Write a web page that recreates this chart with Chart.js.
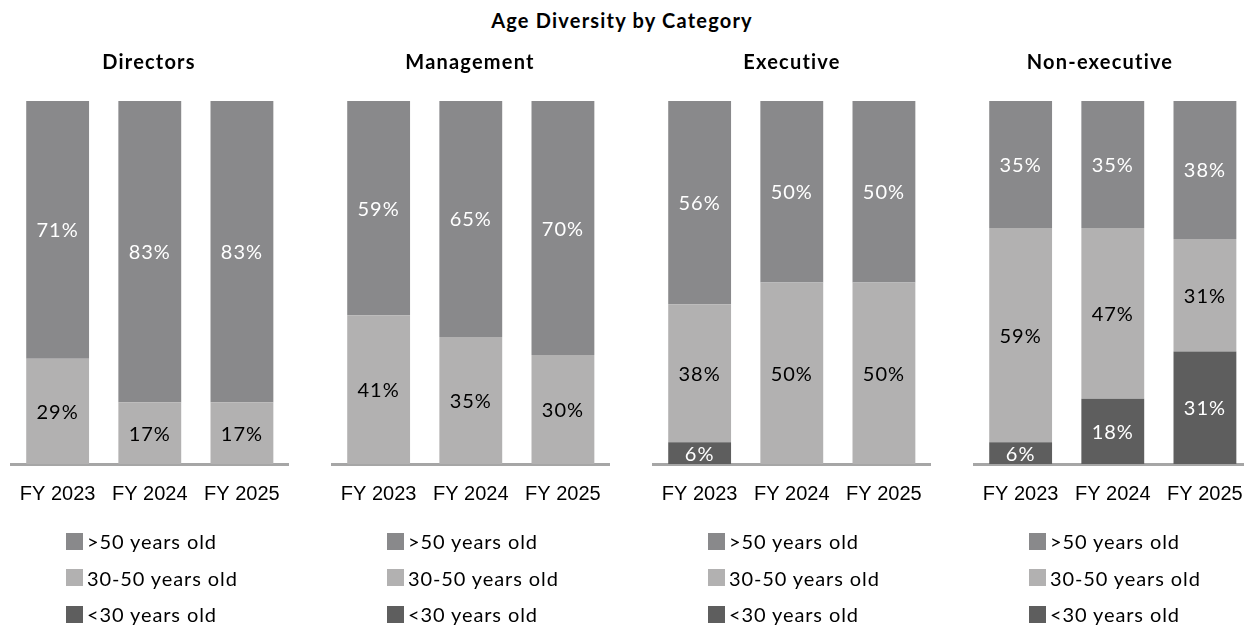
<!DOCTYPE html>
<html>
<head>
<meta charset="utf-8">
<script src="https://cdn.jsdelivr.net/npm/chart.js@4.4.1/dist/chart.umd.min.js"></script>
<style>
  html, body { margin: 0; padding: 0; background: #fff; }
  body { width: 1244px; height: 625px; overflow: hidden; position: relative; font-family: Lato, sans-serif; }
  .panel { position: absolute; top: 0; width: 321px; height: 625px; }
  .title { position: absolute; transform: translate(-50%, -50%); white-space: nowrap; font-weight: 700; font-size: 20px; letter-spacing: 1.2px; color: #000; }
  .legend { position: absolute; top: 523px; }
  .legend-item { display: flex; align-items: center; height: 36.5px; font-size: 20px; letter-spacing: 0.9px; color: #000; white-space: nowrap; }
  .legend-item span.box { width: 17px; height: 17px; margin-right: 4px; display: inline-block; }
</style>
</head>
<body>
<div class="title" id="main-title" style="left:622px; top:20px;">Age Diversity by Category</div>
<div id="panels"></div>
<script>
const categories = ["FY 2023", "FY 2024", "FY 2025"];
const panelTitles = ["Directors", "Management", "Executive", "Non-executive"];
const seriesLabels = [">50 years old", "30-50 years old", "<30 years old"];

// per panel, values in %, order FY 2023 / FY 2024 / FY 2025
const over50 = [[71, 83, 83], [59, 65, 70], [56, 50, 50], [35, 35, 38]];
const from30to50 = [[29, 17, 17], [41, 35, 30], [38, 50, 50], [59, 47, 31]];
const under30 = [[0, 0, 0], [0, 0, 0], [6, 0, 0], [6, 18, 31]];

const seriesColors = ["#89898b", "#b2b1b1", "#5e5e5e"];
const labelColors = ["#ffffff", "#000000", "#ffffff"];
const PANEL_W = 321;
const titleCenters = [149, 470, 792, 1100];

const segmentLabels = {
    id: "segmentLabels",
    afterDatasetsDraw(chart) {
        const ctx = chart.ctx;
        ctx.save();
        ctx.font = "20px Lato";
        ctx.letterSpacing = "1px";
        ctx.textAlign = "center";
        ctx.textBaseline = "middle";
        chart.data.datasets.forEach((ds, di) => {
            const meta = chart.getDatasetMeta(di);
            meta.data.forEach((el, i) => {
                const v = ds.data[i];
                if (!v) return;
                const p = el.getProps(["x", "y", "base"], true);
                ctx.fillStyle = ds.labelColor;
                ctx.fillText(v + "%", p.x, (p.y + p.base) / 2 + 1);
            });
        });
        ctx.restore();
    },
};

const panelsEl = document.getElementById("panels");

panelTitles.forEach((name, pi) => {
    const panel = document.createElement("div");
    panel.className = "panel";
    panel.style.left = (pi * PANEL_W) + "px";
    const canvas = document.createElement("canvas");
    canvas.width = PANEL_W;
    canvas.height = 625;
    canvas.style.width = PANEL_W + "px";
    canvas.style.height = "625px";
    panel.appendChild(canvas);
    panelsEl.appendChild(panel);

    const t = document.createElement("div");
    t.className = "title";
    t.style.left = titleCenters[pi] + "px";
    t.style.top = "61px";
    t.textContent = name;
    document.body.appendChild(t);

    // bottom-up stacking: <30, 30-50, >50
    const seriesData = [under30[pi], from30to50[pi], over50[pi]];
    const order = [2, 1, 0];
    const datasets = order.map((si, k) => ({
        label: seriesLabels[si],
        data: seriesData[k],
        backgroundColor: seriesColors[si],
        labelColor: labelColors[si],
        borderWidth: 0,
        categoryPercentage: 1,
        barPercentage: 0.682,
    }));

    new Chart(canvas.getContext("2d"), {
        type: "bar",
        data: { labels: categories, datasets },
        options: {
            responsive: false,
            animation: false,
            layout: { padding: { top: 101, left: 11, right: 33, bottom: 0 } },
            plugins: { legend: { display: false }, title: { display: false }, tooltip: { enabled: false } },
            scales: {
                x: {
                    stacked: true,
                    grid: { display: false, drawTicks: false },
                    border: { display: true, color: "#a6a6a6", width: 3 },
                    ticks: { color: "#000", padding: 18, font: { family: "'Liberation Sans', Arial, sans-serif", size: 20 } },
                    afterFit(scale) { scale.height = 161; },
                },
                y: { stacked: true, display: false, min: 0, max: 100 },
            },
        },
        plugins: [segmentLabels],
    });

    const legend = document.createElement("div");
    legend.className = "legend";
    legend.style.left = (pi * PANEL_W + 66) + "px";
    seriesLabels.forEach((lab, si) => {
        const item = document.createElement("div");
        item.className = "legend-item";
        const box = document.createElement("span");
        box.className = "box";
        box.style.background = seriesColors[si];
        item.appendChild(box);
        item.appendChild(document.createTextNode(lab));
        legend.appendChild(item);
    });
    document.body.appendChild(legend);
});
</script>
</body>
</html>
